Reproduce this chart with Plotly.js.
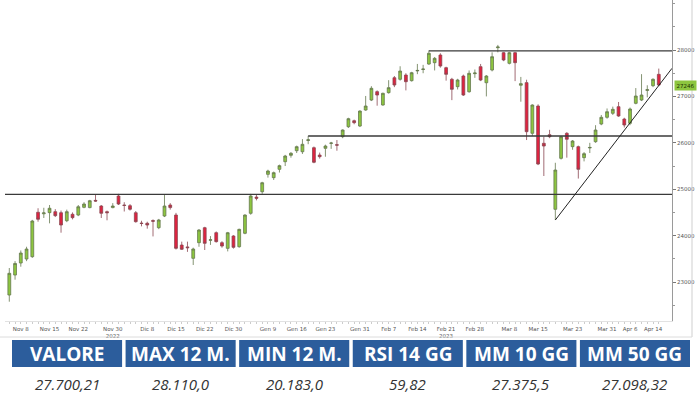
<!DOCTYPE html>
<html><head><meta charset="utf-8">
<script src="https://cdn.plot.ly/plotly-3.0.1.min.js"></script>
<style>html,body{margin:0;padding:0;background:#fff}#chart{width:700px;height:400px}</style>
</head><body><div id="chart"></div>
<script>
const dates = ['2022-11-04','2022-11-07','2022-11-08','2022-11-09','2022-11-10','2022-11-11','2022-11-14','2022-11-15','2022-11-16','2022-11-17','2022-11-18','2022-11-21','2022-11-22','2022-11-23','2022-11-24','2022-11-25','2022-11-28','2022-11-29','2022-11-30',
'2022-12-01','2022-12-02','2022-12-05','2022-12-06','2022-12-07','2022-12-08','2022-12-09','2022-12-12','2022-12-13','2022-12-14','2022-12-15','2022-12-16','2022-12-19','2022-12-20','2022-12-21','2022-12-22','2022-12-23','2022-12-27','2022-12-28','2022-12-29','2022-12-30',
'2023-01-02','2023-01-03','2023-01-04','2023-01-05','2023-01-06','2023-01-09','2023-01-10','2023-01-11','2023-01-12','2023-01-13','2023-01-16','2023-01-17','2023-01-18','2023-01-19','2023-01-20','2023-01-23','2023-01-24','2023-01-25','2023-01-26','2023-01-27','2023-01-30','2023-01-31',
'2023-02-01','2023-02-02','2023-02-03','2023-02-06','2023-02-07','2023-02-08','2023-02-09','2023-02-10','2023-02-13','2023-02-14','2023-02-15','2023-02-16','2023-02-17','2023-02-20','2023-02-21','2023-02-22','2023-02-23','2023-02-24','2023-02-27','2023-02-28',
'2023-03-01','2023-03-02','2023-03-03','2023-03-06','2023-03-07','2023-03-08','2023-03-09','2023-03-10','2023-03-13','2023-03-14','2023-03-15','2023-03-16','2023-03-17','2023-03-20','2023-03-21','2023-03-22','2023-03-23','2023-03-24','2023-03-27','2023-03-28','2023-03-29','2023-03-30','2023-03-31',
'2023-04-03','2023-04-04','2023-04-05','2023-04-06','2023-04-11','2023-04-12','2023-04-13','2023-04-14','2023-04-17'];

const openP = [22720,23151,23410,23496,23546,24503,24470,24495,24516,24494,24321,24460,24444,24610,24604,24760,24638,24516,24604,
24854,24660,24645,24494,24270,24266,24325,24171,24422,24660,24444,23797,23757,23511,23848,24171,23900,24063,23848,23726,23992,
23761,24050,24481,24830,24946,25321,25249,25429,25593,25731,25830,25808,26050,25895,25737,25881,25989,25960,26132,26347,26477,26362,
26707,26922,27103,26815,27081,27403,27369,27461,27339,27550,27580,27698,27727,27892,27619,27369,27210,27440,27101,27490,
27641,27295,27569,28050,27943,27713,27943,27240,27297,26205,26793,25990,26175,24567,25666,26205,25917,25917,25680,25890,26024,26405,26550,
26636,26779,26513,26420,26851,26922,27130,27231,27476];

const highP = [23302,23450,23680,23760,24340,24590,24600,24660,24570,24540,24560,24500,24660,24720,24770,24897,24660,24540,24700,
24900,24720,24680,24530,24320,24300,24350,24360,24875,24700,24490,23870,23870,23740,24140,24190,23990,24090,23880,24080,24010,
24150,24460,24900,24880,25160,25420,25380,25530,25740,25800,25940,26080,26150,25920,25790,25960,26020,26060,26290,26540,26500,26700,
27010,27220,27130,27080,27350,27440,27650,27500,27530,27700,27680,27990,27850,27930,27640,27400,27380,27470,27560,27580,
27700,27460,27950,28110,27960,27960,27960,27420,27360,26830,26830,26130,26280,25570,26150,26230,26060,25940,25800,26000,26380,26600,26740,
26780,26880,26540,26760,27180,27480,27240,27390,27600];

const lowP = [22576,23050,23330,23450,23520,24300,24380,24265,24400,24063,24290,24350,24420,24590,24590,24730,24380,24330,24590,
24660,24520,24540,24280,24200,24150,23983,24140,24400,24560,23700,23690,23650,23367,23760,23690,23800,23850,23740,23660,23720,
23740,24030,24450,24760,24900,25250,25200,25360,25500,25680,25780,25760,25970,25560,25660,25700,25870,25830,26100,26320,26400,26340,
26690,26900,26800,26800,27060,27200,27340,27130,27320,27480,27500,27680,27560,27620,27340,26920,27150,27010,27080,27400,
27330,27000,27540,27950,27760,27690,27330,26886,26060,26150,25520,25285,26100,24336,25640,25680,25850,25230,25600,25780,26000,26380,26520,
26600,26560,26330,26380,26830,26900,26980,27200,27220];

const closeP = [23188,23400,23625,23711,24315,24352,24490,24590,24430,24229,24516,24387,24623,24681,24753,24745,24481,24494,24638,
24681,24650,24567,24300,24262,24229,24310,24337,24638,24604,23726,23705,23740,23711,24121,23834,23910,23870,23776,24063,23748,
24135,24444,24854,24804,25140,25392,25357,25508,25716,25774,25917,25968,26065,25580,25701,25931,25995,25950,26276,26520,26434,26685,
26793,27175,27030,27067,27189,27246,27547,27317,27511,27560,27590,27929,27821,27655,27476,27153,27354,27030,27498,27505,
27353,27440,27856,28065,27785,27943,27727,27275,26240,26815,25543,25931,26132,25414,26132,26076,26039,25429,25766,25900,26276,26550,26671,
26722,26578,26384,26729,27009,27030,27145,27369,27246];

const tickDates = ['2022-11-08','2022-11-15','2022-11-22','2022-11-30','2022-12-08','2022-12-15','2022-12-22','2022-12-30','2023-01-09','2023-01-16','2023-01-23','2023-01-31','2023-02-07','2023-02-14','2023-02-21','2023-02-28','2023-03-08','2023-03-15','2023-03-23','2023-03-31','2023-04-06','2023-04-14'];
const tickLabels = ['Nov 8','Nov 15','Nov 22','Nov 30<br>2022','Dic 8','Dic 15','Dic 22','Dic 30','Gen 9','Gen 16','Gen 23','Gen 31','Feb 7','Feb 14','Feb 21<br>2023','Feb 28','Mar 8','Mar 15','Mar 23','Mar 31','Apr 6','Apr 14'];

// horizontal support / resistance levels and where they start
const levelValues = [24890, 26147, 27980];
const levelStarts = [null, '2023-01-18', '2023-02-16'];
// rising trendline: from the March low to the right edge
const trendStart = {date: '2023-03-20', value: 24336};
const trendEndValue = 27606;

const tableHeaders = ['VALORE','MAX 12 M.','MIN 12 M.','RSI 14 GG','MM 10 GG','MM 50 GG'];
const tableValues = ['27.700,21','28.110,0','20.183,0','59,82','27.375,5','27.098,32'];

const xMin = -0.75, xMax = 115.3;
const tickText = dates.map(d => { const k = tickDates.indexOf(d); return k >= 0 ? tickLabels[k] : ''; });
const px = v => v / 700, py = v => 1 - v / 400;

const shapes = levelValues.map((v, k) => ({
  type: 'line', xref: 'x', yref: 'y',
  x0: levelStarts[k] === null ? xMin : dates.indexOf(levelStarts[k]), x1: xMax,
  y0: v, y1: v, line: {color: '#3a3a3a', width: 1.3}
}));
shapes.push({type: 'line', xref: 'x', yref: 'y', x0: dates.indexOf(trendStart.date), y0: trendStart.value,
  x1: xMax, y1: trendEndValue, line: {color: '#222', width: 1}});
shapes.push({type: 'line', xref: 'paper', yref: 'paper', x0: px(692), x1: px(692), y0: py(337), y1: 1, line: {color: '#cfcfcf', width: 1}});
shapes.push({type: 'line', xref: 'paper', yref: 'paper', x0: 0, x1: px(692), y0: py(337), y1: py(337), line: {color: '#dcdcdc', width: 1}});

// table of indicators, drawn as header boxes with text
const tblLeft = 12, tblRight = 690, tblGap = 3.5;
const colW = (tblRight - tblLeft - tblGap * (tableHeaders.length - 1)) / tableHeaders.length;
const annotations = [];
tableHeaders.forEach((h, k) => {
  const x0 = tblLeft + k * (colW + tblGap), x1 = x0 + colW, xc = (x0 + x1) / 2;
  shapes.push({type: 'rect', xref: 'paper', yref: 'paper', x0: px(x0), x1: px(x1), y0: py(367), y1: py(340),
    fillcolor: '#2c5d9c', line: {width: 0}, layer: 'above'});
  annotations.push({xref: 'paper', yref: 'paper', x: px(xc), y: py(353.5), xanchor: 'center', yanchor: 'middle',
    text: '<b>' + h + '</b>', showarrow: false, font: {family: 'Open Sans', size: 19, color: 'white'}});
  annotations.push({xref: 'paper', yref: 'paper', x: px(xc), y: py(384), xanchor: 'center', yanchor: 'middle',
    text: '<i>' + tableValues[k] + '</i>', showarrow: false, font: {family: 'Open Sans', size: 15, color: '#333'}});
});

const lastClose = closeP[closeP.length - 1];
annotations.push({xref: 'paper', yref: 'y', x: px(673.5), y: lastClose, xanchor: 'left', yanchor: 'middle',
  text: String(Math.round(lastClose)), showarrow: false, bgcolor: '#8dc63f', borderpad: 1.5,
  font: {family: 'DejaVu Sans', size: 5.5, color: '#1d3300'}});

const traces = [{
  type: 'candlestick', x: dates, open: openP, high: highP, low: lowP, close: closeP,
  increasing: {fillcolor: '#8dc63f', line: {color: '#66784f', width: 0.8}},
  decreasing: {fillcolor: '#e0223f', line: {color: '#8a4650', width: 0.8}},
  whiskerwidth: 0, hoverinfo: 'skip', xaxis: 'x', yaxis: 'y'
}];

const layout = {
  width: 700, height: 400, margin: {l: 0, r: 0, t: 0, b: 0},
  paper_bgcolor: 'white', plot_bgcolor: 'white', showlegend: false,
  xaxis: {type: 'category', domain: [px(5), px(672)], range: [xMin, xMax], rangeslider: {visible: false},
    tickvals: dates, ticktext: tickText, ticks: 'outside', ticklen: 2, tickcolor: '#aaa', tickwidth: 0.6,
    showgrid: false, showline: true, linecolor: '#e2e2e2', zeroline: false,
    tickfont: {family: 'DejaVu Sans', size: 5.5, color: '#555'}, tickangle: 0, fixedrange: true},
  yaxis: {domain: [py(321), 1], range: [22160, 29078], side: 'right', anchor: 'x',
    tickvals: [23000, 24000, 25000, 26000, 27000, 28000], tickformat: 'd',
    ticks: 'outside', ticklen: 3, tickcolor: '#777', showgrid: false, showline: true, linecolor: '#9a9a9a',
    zeroline: false, minor: {dtick: 500, ticklen: 2, tickcolor: '#999', ticks: 'outside'},
    tickfont: {family: 'DejaVu Sans', size: 5.5, color: '#555'}, fixedrange: true},
  shapes: shapes,
  annotations: annotations
};

Plotly.newPlot('chart', traces, layout, {staticPlot: true, displayModeBar: false});
</script></body></html>
